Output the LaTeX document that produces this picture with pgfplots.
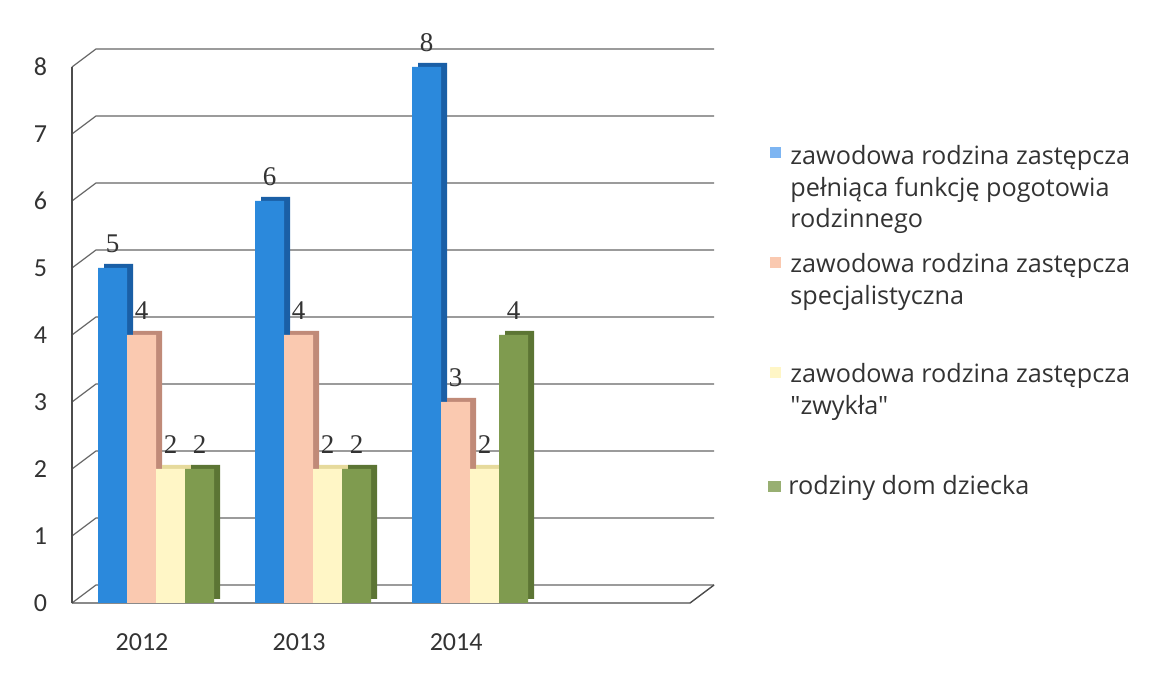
\documentclass[border=0pt]{standalone}
\usepackage{fontspec}
\setmainfont{Carlito}
\newfontfamily\legfont{Open Sans}
\newfontfamily\labfont{Liberation Serif}
\usepackage{pgfplots}
\pgfplotsset{compat=1.18}
\definecolor{blueA}{HTML}{2B89DC}
\definecolor{blueD}{HTML}{1A5FA6}
\definecolor{pinkA}{HTML}{FAC9B0}
\definecolor{pinkD}{HTML}{C08A78}
\definecolor{yelA}{HTML}{FFF6C6}
\definecolor{yelD}{HTML}{E6DA9C}
\definecolor{grnA}{HTML}{7F9B4F}
\definecolor{grnD}{HTML}{5C7534}
\definecolor{blueL}{HTML}{7DB5F2}
\definecolor{txt}{HTML}{333333}
\begin{document}
\begin{tikzpicture}
\path[use as bounding box] (-36pt,-40pt) rectangle (538.5pt,301.5pt);
\begin{axis}[
  at={(0,0)}, anchor=south west,
  width=309pt, height=268pt, scale only axis,
  xmin=-0.535, xmax=3.40, ymin=0, ymax=8,
  axis line style={draw=none},
  xtick={0,1,2}, xticklabels={2012,2013,2014},
  ytick={0,1,...,8},
  major tick length=0pt,
  clip=false,
  ybar=0pt, bar width=14.5pt,
  /pgf/number format/assume math mode=true,
  ticklabel style={font=\fontsize{13}{13}\selectfont, text=txt},
  xticklabel style={xshift=-7pt, yshift=-12pt},
  yticklabel style={xshift=-9pt},
  lab/.style={nodes near coords, every node near coord/.append style={font=\labfont\fontsize{13.5}{13.5}\selectfont, text=txt, yshift=4pt}},
]
\pgfplotsinvokeforeach{0,...,8}{
  \draw[black!60, line width=0.6pt] (axis cs:-0.535,#1) -- (axis cs:-0.382,#1.269) -- (axis cs:3.553,#1.269);
}
\draw[black!70, line width=0.7pt] (axis cs:-0.535,0) -- (axis cs:-0.535,8);
\draw[black!70, line width=0.7pt] (axis cs:-0.535,0) -- (axis cs:3.40,0) -- (axis cs:3.553,0.269);

\addplot[fill=blueD, draw=none, bar shift=-21.75pt, xshift=3pt, yshift=2pt, forget plot] coordinates {(0,5) (1,6) (2,8)};
\addplot[fill=blueA, draw=none, bar shift=-21.75pt, lab] coordinates {(0,5) (1,6) (2,8)};
\addplot[fill=pinkD, draw=none, bar shift=-7.25pt, xshift=3pt, yshift=2pt, forget plot] coordinates {(0,4) (1,4) (2,3)};
\addplot[fill=pinkA, draw=none, bar shift=-7.25pt, lab] coordinates {(0,4) (1,4) (2,3)};
\addplot[fill=yelD, draw=none, bar shift=7.25pt, xshift=3pt, yshift=2pt, forget plot] coordinates {(0,2) (1,2) (2,2)};
\addplot[fill=yelA, draw=none, bar shift=7.25pt, lab] coordinates {(0,2) (1,2) (2,2)};
\addplot[fill=grnD, draw=none, bar shift=21.75pt, xshift=3pt, yshift=2pt, forget plot] coordinates {(0,2) (1,2) (2,4)};
\addplot[fill=grnA, draw=none, bar shift=21.75pt, lab] coordinates {(0,2) (1,2) (2,4)};
\end{axis}
% legend
\begin{scope}[every node/.style={anchor=base west, inner sep=0pt, font=\legfont\fontsize{12.6}{13}\selectfont, text=txt}]
\fill[blueL] (349pt,222.5pt) rectangle (354.5pt,228pt);
\node at (359pt,219pt) {zawodowa rodzina zastępcza};
\node at (359pt,203.25pt) {pełniąca funkcję pogotowia};
\node at (359pt,187.5pt) {rodzinnego};
\fill[pinkA] (349pt,167.5pt) rectangle (354.5pt,173pt);
\node at (359pt,165pt) {zawodowa rodzina zastępcza};
\node at (359pt,149.25pt) {specjalistyczna};
\fill[yelA] (349pt,112.5pt) rectangle (354.5pt,118pt);
\node at (359pt,110pt) {zawodowa rodzina zastępcza};
\node at (359pt,94.25pt) {"zwykła"};
\fill[grnA!80!white] (348pt,55.5pt) rectangle (354.5pt,61pt);
\node at (358pt,54pt) {rodziny dom dziecka};
\end{scope}
\end{tikzpicture}
\end{document}
